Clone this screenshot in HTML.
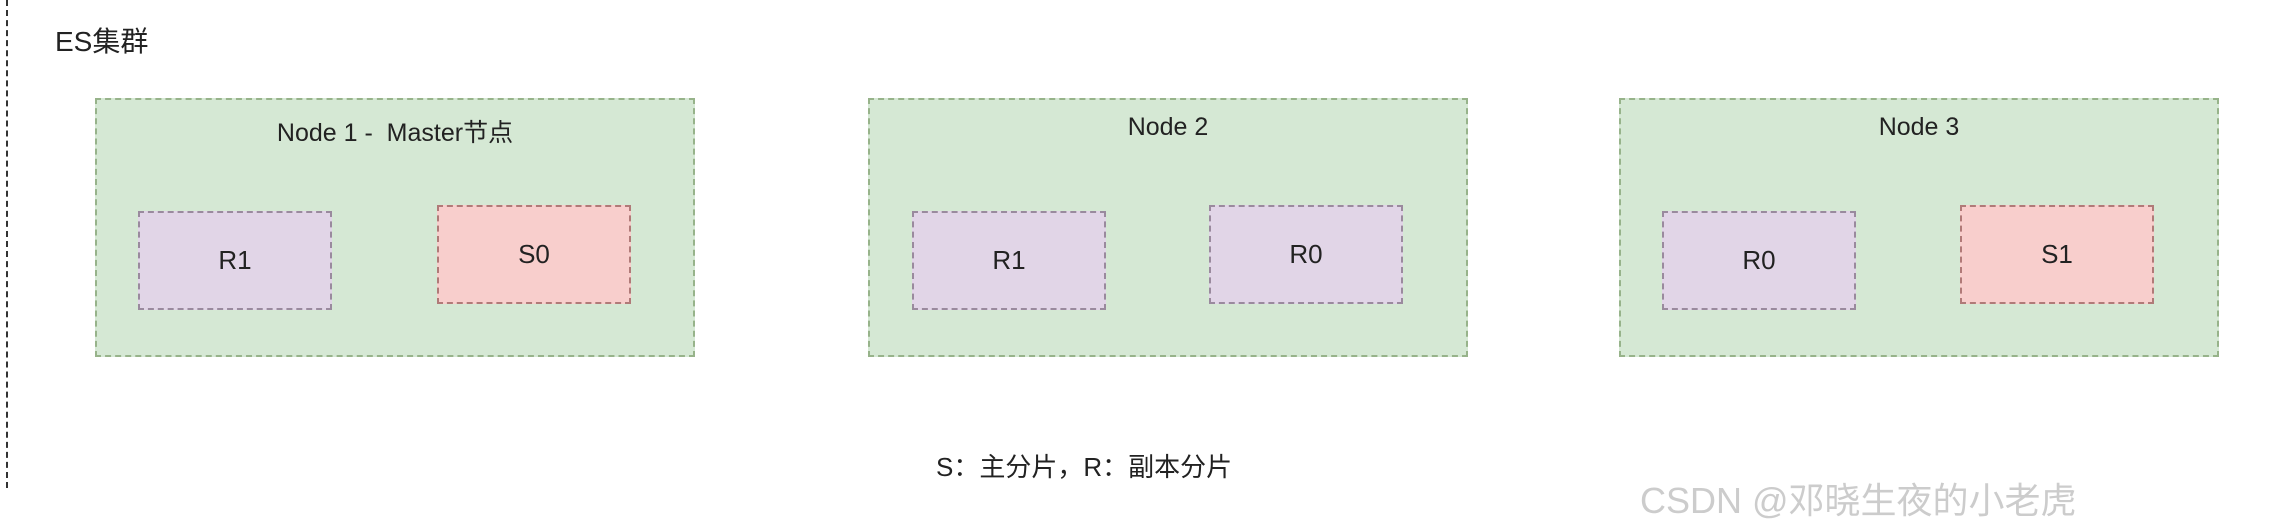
<!DOCTYPE html>
<html><head><meta charset="utf-8"><style>
body{margin:0;width:2284px;height:488px;background:#fff;position:relative;overflow:hidden;font-family:"Liberation Sans","Noto Sans CJK SC",sans-serif;color:#222}
.a{position:absolute;box-sizing:border-box}
.n{background:#d5e8d4;border:2px dashed #97b38a;width:600px;height:259px;top:98px}
.t{position:absolute;left:0;right:0;top:13px;text-align:center;font-size:25px}
.s{width:194px;height:99px;border:2.5px dashed #9a8a9e;background:#e1d5e7;display:flex;align-items:center;justify-content:center;font-size:26px}
.r{border-color:#b07a78;background:#f8cecc}
</style></head><body>
<div class="a" style="left:6px;top:0;height:488px;border-left:2px dashed #333"></div>
<div class="a" style="left:55px;top:20px;font-size:28px">ES集群</div>

<div class="a n" style="left:95px"><div class="t">Node 1 -&nbsp; Master节点</div></div>
<div class="a s" style="left:138px;top:211px">R1</div>
<div class="a s r" style="left:437px;top:205px">S0</div>

<div class="a n" style="left:868px"><div class="t">Node 2</div></div>
<div class="a s" style="left:912px;top:211px">R1</div>
<div class="a s" style="left:1209px;top:205px">R0</div>

<div class="a n" style="left:1619px"><div class="t">Node 3</div></div>
<div class="a s" style="left:1662px;top:211px">R0</div>
<div class="a s r" style="left:1960px;top:205px">S1</div>

<div class="a" style="left:936px;top:447px;font-size:26px">S：主分片，R：副本分片</div>
<div class="a" style="left:1640px;top:472px;font-size:36px;color:#ccc">CSDN @邓晓生夜的小老虎</div>
</body></html>
